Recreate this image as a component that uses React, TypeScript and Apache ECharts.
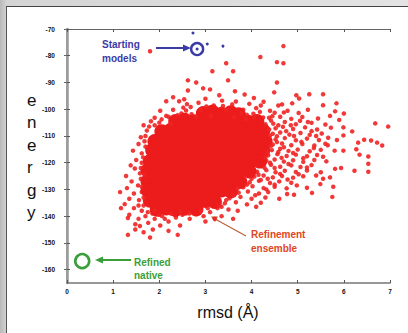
import React, { useEffect, useRef } from "react";
import * as echarts from "echarts";

const yTicks = [-160, -150, -140, -130, -120, -110, -100, -90, -80, -70];

// dense core of the refinement ensemble [rmsd, energy]
const core: [number, number][] = [
  [2.95, -101.5], [3.15, -101], [3.35, -101.8], [3.55, -101.2], [3.72, -102],
  [2.35, -104.5], [2.55, -104], [2.75, -104.6], [2.95, -104.2], [3.15, -104.8], [3.35, -104.1], [3.55, -104.6], [3.75, -104.3], [3.95, -104.9], [4.12, -104.5],
  [2.05, -108.3], [2.25, -107.8], [2.45, -108.4], [2.65, -108], [2.85, -108.5], [3.05, -107.9], [3.25, -108.3], [3.45, -108], [3.65, -108.6], [3.85, -108.1], [4.05, -108.4], [4.25, -108],
  [1.9, -112], [2.1, -111.5], [2.3, -112.1], [2.5, -111.6], [2.7, -112], [2.9, -111.4], [3.1, -112.2], [3.3, -111.7], [3.5, -112], [3.7, -111.5], [3.9, -112.1], [4.1, -111.6], [4.3, -112],
  [1.85, -115.3], [2.05, -115.9], [2.25, -115.4], [2.45, -115.8], [2.65, -115.2], [2.85, -115.7], [3.05, -115.4], [3.25, -115.9], [3.45, -115.3], [3.65, -115.8], [3.85, -115.4], [4.05, -115.7], [4.25, -115.3],
  [1.8, -119.5], [2.0, -119], [2.2, -119.4], [2.4, -118.9], [2.6, -119.5], [2.8, -119.1], [3.0, -119.6], [3.2, -119], [3.4, -119.4], [3.6, -119.1], [3.8, -119.6], [4.0, -119.2], [4.18, -119.5],
  [1.75, -122.8], [1.95, -123.3], [2.15, -122.9], [2.35, -123.4], [2.55, -122.8], [2.75, -123.2], [2.95, -122.9], [3.15, -123.4], [3.35, -122.8], [3.55, -123.3], [3.75, -122.9], [3.95, -123.2],
  [1.75, -127], [1.95, -126.5], [2.15, -127.1], [2.35, -126.6], [2.55, -127], [2.75, -126.5], [2.95, -127.1], [3.15, -126.7], [3.35, -127], [3.55, -126.6], [3.75, -127.1],
  [1.75, -130.3], [1.95, -130.8], [2.15, -130.4], [2.35, -130.9], [2.55, -130.3], [2.75, -130.7], [2.95, -130.4], [3.15, -130.8], [3.35, -130.3], [3.55, -130.7],
  [1.8, -134.1], [2.0, -134.6], [2.2, -134.2], [2.4, -134.7], [2.6, -134.1], [2.8, -134.5], [3.0, -134.2], [3.2, -134.6],
  [1.95, -137.5], [2.15, -137], [2.35, -137.6], [2.55, -137.1], [2.8, -137.4],
];

// dots along the edge of the core
const fringe: [number, number][] = [
  [2.05, -103.8], [2.25, -105.5], [2.4, -102.2], [2.58, -100.5], [2.8, -102.8], [3.02, -99], [3.12, -102.6], [3.45, -100.3], [3.62, -102.9], [3.78, -101.5],
  [3.88, -103.6], [4.05, -103.2], [4.18, -101], [4.3, -105.6], [4.38, -107.6], [2.52, -99.4], [2.9, -100.2], [3.38, -98.8], [3.58, -98.2], [4.2, -98.6],
  [4.4, -109.8], [4.42, -113.7], [4.35, -116], [4.3, -118], [4.28, -121.9], [4.15, -124.5], [4.0, -126], [3.9, -128.2], [3.7, -129.5], [3.6, -132],
  [3.45, -134], [3.3, -136], [4.55, -110.1], [4.58, -116], [4.4, -120], [4.2, -126.5],
  [1.7, -114], [1.65, -118], [1.6, -122], [1.62, -129], [1.66, -133], [1.7, -110], [1.78, -106.5], [1.9, -106], [1.68, -124.5], [1.55, -136],
  [1.75, -138.5], [2.0, -139.5], [2.25, -139], [2.45, -138.2], [2.65, -139], [2.9, -138], [3.05, -137], [1.9, -137.8], [2.12, -141],
  [4.42, -104.2], [4.58, -106], [4.75, -108.2], [4.92, -110], [5.08, -112.2], [4.55, -112.3], [4.7, -114.2], [4.9, -116.4], [5.12, -118.3], [4.65, -118.2],
  [4.8, -120.5], [4.5, -122], [4.62, -124.2], [4.78, -126.3], [4.35, -126], [4.5, -128.2], [4.32, -130], [4.08, -132.2], [5.3, -108.2], [5.35, -114.5],
  [5.2, -121.8], [5.02, -124.3], [4.98, -128.5], [5.4, -110], [5.55, -117.8], [5.05, -104.3], [5.22, -104.8], [4.85, -106],
];

// medium-density halo around the core
const halo: [number, number][] = [
  [2.15, -97], [2.43, -97], [2.54, -96.3], [2.68, -99.2], [2.85, -97.6], [3.0, -96.1], [3.18, -98.6], [3.36, -96.8], [3.5, -99.6], [3.66, -97.1],
  [3.82, -100.2], [3.95, -98], [4.1, -99.6], [4.26, -97.2], [4.4, -100.6], [4.58, -98.6], [2.3, -100.2], [2.48, -101.6], [2.6, -98.1], [3.06, -100.1],
  [3.27, -100.9], [3.9, -102.1], [4.04, -101.7], [4.45, -102.6], [4.66, -98.2], [4.88, -97.8], [2.02, -100.6], [1.9, -103.2], [2.2, -102.8], [2.7, -101.9],
  [4.25, -103.1], [4.7, -101.2],
  [4.5, -101.3], [4.78, -100.6], [5.02, -101.4], [5.22, -100.2],
  [4.38, -103.2], [4.62, -102.8], [4.86, -103.6], [5.1, -102.9], [5.44, -103.5],
  [4.47, -105.4], [4.72, -104.8], [4.96, -105.6], [5.3, -105.1], [5.6, -105.7],
  [4.52, -107.1], [4.68, -106.6], [4.9, -107.4], [5.16, -106.8], [5.42, -107.6], [5.72, -106.9],
  [4.46, -109.2], [4.62, -108.7], [4.82, -109.5], [5.06, -108.9], [5.26, -109.6], [5.52, -109.1],
  [4.52, -111.3], [4.72, -110.8], [4.96, -111.6], [5.2, -111], [5.46, -111.5], [5.66, -110.7],
  [4.46, -113.2], [4.66, -112.8], [4.86, -113.5], [5.1, -113], [5.36, -113.6], [5.6, -112.9],
  [4.44, -115.3], [4.62, -114.8], [4.8, -115.6], [5.0, -115.1], [5.26, -115.7], [5.5, -115.2], [5.8, -115.5],
  [4.36, -117.2], [4.56, -116.8], [4.76, -117.5], [4.96, -117], [5.2, -117.6], [5.42, -117.1],
  [4.32, -119.3], [4.5, -118.8], [4.7, -119.6], [4.9, -119.1], [5.12, -119.7], [5.36, -119], [5.62, -119.5],
  [4.22, -121.2], [4.42, -120.8], [4.62, -121.5], [4.86, -121], [5.06, -121.6], [5.3, -120.9],
  [4.12, -123.4], [4.32, -122.8], [4.52, -123.6], [4.72, -123], [4.96, -123.5], [5.2, -122.9], [5.5, -123.6],
  [4.06, -125.2], [4.26, -124.8], [4.46, -125.5], [4.66, -125], [4.9, -125.6], [5.12, -125.1],
  [3.96, -127.3], [4.16, -126.8], [4.4, -127.6], [4.6, -127], [4.86, -127.5],
  [3.82, -129.2], [4.02, -128.8], [4.26, -129.5], [4.5, -129], [4.76, -129.6],
  [3.72, -131.2], [3.92, -130.8], [4.16, -131.5], [4.36, -131],
  [3.52, -133.3], [3.76, -132.8], [4.0, -133.5], [4.3, -133],
  [3.42, -135.2], [3.66, -134.8], [3.9, -135.6],
  [1.73, -108], [1.6, -110.5], [1.55, -113], [1.43, -115.5], [1.62, -116.5], [1.5, -119], [1.38, -121], [1.47, -122.2], [1.58, -124], [1.28, -125],
  [1.4, -127], [1.54, -128.5], [1.3, -129.5], [1.15, -131], [1.45, -131.5], [1.35, -133.5], [1.56, -134], [1.25, -135.5], [1.17, -137], [1.45, -137],
  [1.62, -138], [1.35, -139.5], [1.32, -140.7], [1.55, -141], [1.7, -140], [1.48, -143], [1.58, -143.7], [1.76, -142.5], [1.9, -141], [2.02, -143.5],
  [1.32, -147], [1.48, -145], [1.66, -146], [1.86, -145], [2.06, -140], [2.2, -142], [2.36, -140.5], [2.5, -139.5], [2.66, -141], [2.8, -139.2],
  [2.96, -140], [3.1, -138.5], [3.26, -137], [2.2, -145.5], [2.45, -143.5], [3.0, -142], [3.35, -140], [1.82, -104.5], [2.0, -105], [2.15, -102.5],
  [1.66, -106], [1.68, -112], [1.62, -120], [1.6, -126], [1.62, -131], [1.66, -136], [1.85, -139], [3.15, -136], [3.35, -136.5], [2.4, -147],
  [1.8, -148], [3.5, -137.5], [3.7, -138], [3.2, -141], [4.1, -136.5], [4.2, -135], [3.6, -141],
];

// isolated outliers
const sparse: [number, number][] = [
  [1.8, -78.3], [4.19, -80.5], [3.45, -82.8], [3.15, -85.8], [3.6, -85.8], [2.62, -89.2], [2.8, -90], [3.49, -89.2], [2.62, -93], [2.95, -92.2],
  [3.1, -92.6], [3.64, -93.3], [4.69, -76.4], [4.55, -82.4], [4.69, -82.8], [4.55, -90], [4.49, -93.7], [2.3, -95.5], [3.85, -94.5], [4.05, -95.8],
  [3.3, -94.8], [5.25, -94.4], [4.97, -94.8], [5.03, -96], [5.55, -94.4], [5.84, -97.8], [5.81, -100.8], [6.0, -101.6], [6.68, -105.3], [6.96, -106.5],
  [6.18, -108.3], [6.44, -111.4], [6.59, -111.7], [6.72, -112.5], [6.83, -113.6], [6.31, -112.5], [6.27, -115], [6.34, -117], [6.53, -117.7], [6.53, -120.4],
  [6.53, -123.4], [6.23, -123], [5.94, -122], [5.81, -122.3], [5.99, -115.5], [5.99, -106.8], [5.99, -109.8], [5.75, -132.8], [5.77, -129], [5.31, -131.3],
  [5.2, -129.4], [5.49, -128], [4.6, -133.5], [4.92, -132], [4.77, -131.7], [5.55, -126], [5.7, -125.5], [5.4, -124.8], [5.65, -113.5], [5.85, -111.5],
  [5.9, -104], [5.7, -102.5], [5.55, -98.5],
];

const startingModel: [number, number][] = [[2.82, -77.5]];
const startingDots: [number, number][] = [[2.73, -71.5], [3.04, -75.6], [3.38, -76.4]];
const refinedNative: [number, number][] = [[0.33, -156.8]];

const FONT = "'Liberation Sans', Arial, sans-serif";
const BLUE = "#3b3ba6";
const GREEN = "#3a9e3a";
const ORANGE = "#e0461e";
const RED = "#ec1c1c";

export default function App() {
  const ref = useRef<HTMLDivElement>(null);
  useEffect(() => {
    if (!ref.current) return;
    const chart = echarts.init(ref.current, undefined, { renderer: "svg" });
    const tickLabel = { fontSize: 6.5, fontWeight: "bold", color: "#111", fontFamily: FONT };
    const dotStyle = { color: "#f02424", opacity: 0.9 };
    chart.setOption({
      animation: false,
      grid: { left: 67, top: 29, right: 18, bottom: 50 },
      xAxis: [
        {
          type: "value", position: "bottom", min: 0, max: 7, interval: 1,
          axisLine: { lineStyle: { color: "#777", width: 1.5 } },
          axisTick: { inside: true, length: 3, lineStyle: { color: "#555" } },
          axisLabel: { ...tickLabel, margin: 5 },
          splitLine: { show: false },
        },
        {
          type: "value", position: "top", min: 0, max: 7, interval: 1,
          axisLine: { lineStyle: { color: "#666", width: 1 } },
          axisTick: { inside: true, length: 3, lineStyle: { color: "#555" } },
          axisLabel: { show: false },
          splitLine: { show: false },
        },
      ],
      yAxis: [
        {
          type: "value", position: "left", min: -165, max: -70,
          axisLine: { lineStyle: { color: "#888", width: 1.5 } },
          axisTick: { inside: true, length: 3, customValues: yTicks, lineStyle: { color: "#555" } },
          axisLabel: { ...tickLabel, margin: 12, customValues: yTicks },
          splitLine: { show: false },
        },
        {
          type: "value", position: "right", min: -165, max: -70,
          axisLine: { lineStyle: { color: "#9a9a9a", width: 2.5 } },
          axisTick: { inside: true, length: 3, customValues: yTicks, lineStyle: { color: "#666" } },
          axisLabel: { show: false },
          splitLine: { show: false },
        },
      ],
      series: [
        { name: "halo", type: "scatter", data: halo, symbol: "circle", symbolSize: 4.5, itemStyle: dotStyle, silent: true },
        { name: "outliers", type: "scatter", data: sparse, symbol: "circle", symbolSize: 4.5, itemStyle: dotStyle, silent: true },
        { name: "core", type: "scatter", data: core, symbol: "circle", symbolSize: 14.5, itemStyle: { color: RED, opacity: 1 }, silent: true },
        { name: "fringe", type: "scatter", data: fringe, symbol: "circle", symbolSize: 4.5, itemStyle: dotStyle, silent: true },
        {
          name: "Starting models", type: "scatter", data: startingModel, symbol: "circle", symbolSize: 12,
          itemStyle: { color: "rgba(255,255,255,0)", borderColor: BLUE, borderWidth: 2.4, opacity: 1 }, silent: true,
        },
        {
          name: "starting dots", type: "scatter", data: [...startingModel, ...startingDots], symbol: "circle", symbolSize: 3,
          itemStyle: { color: BLUE, opacity: 1 }, silent: true,
        },
        {
          name: "Refined native", type: "scatter", data: refinedNative, symbol: "circle", symbolSize: 14,
          itemStyle: { color: "rgba(255,255,255,0)", borderColor: GREEN, borderWidth: 2.6, opacity: 1 }, silent: true,
        },
      ],
      graphic: [
        ...["e", "n", "e", "r", "g", "y"].map((ch, i) => ({
          type: "text", left: 27, top: 92 + i * 22.4,
          style: { text: ch, font: `17px ${FONT}`, fill: "#111" },
        })),
        {
          type: "text", x: 228, y: 312,
          style: { text: "rmsd (Å)", font: `16px ${FONT}`, fill: "#111", align: "center", verticalAlign: "middle" },
        },
        { type: "text", x: 102, y: 44, style: { text: "Starting", font: `bold 10px ${FONT}`, fill: BLUE, verticalAlign: "middle" } },
        { type: "text", x: 102, y: 58, style: { text: "models", font: `bold 10px ${FONT}`, fill: BLUE, verticalAlign: "middle" } },
        { type: "line", shape: { x1: 156, y1: 48, x2: 186, y2: 48 }, style: { stroke: BLUE, lineWidth: 2 } },
        { type: "polygon", shape: { points: [[191, 48], [183, 44.5], [183, 51.5]] }, style: { fill: BLUE } },
        { type: "text", x: 251, y: 234, style: { text: "Refinement", font: `bold 10px ${FONT}`, fill: ORANGE, verticalAlign: "middle" } },
        { type: "text", x: 251, y: 248, style: { text: "ensemble", font: `bold 10px ${FONT}`, fill: ORANGE, verticalAlign: "middle" } },
        { type: "line", shape: { x1: 246, y1: 236, x2: 216, y2: 219.5 }, style: { stroke: "#b8603a", lineWidth: 1.2 } },
        { type: "polygon", shape: { points: [[211, 216.5], [218, 216.5], [215, 222]] }, style: { fill: "#b8603a" } },
        { type: "text", x: 134, y: 262, style: { text: "Refined", font: `bold 10px ${FONT}`, fill: GREEN, verticalAlign: "middle" } },
        { type: "text", x: 134, y: 275, style: { text: "native", font: `bold 10px ${FONT}`, fill: GREEN, verticalAlign: "middle" } },
        { type: "line", shape: { x1: 131, y1: 260, x2: 101, y2: 260 }, style: { stroke: GREEN, lineWidth: 2 } },
        { type: "polygon", shape: { points: [[95, 260], [103, 256.5], [103, 263.5]] }, style: { fill: GREEN } },
      ],
    });
    return () => chart.dispose();
  }, []);

  return (
    <div
      style={{
        position: "absolute", left: 0, top: 0, width: 408, height: 333, overflow: "hidden",
        background: "linear-gradient(90deg, #b9b9b9 0px, #d4d4d4 7px, #e3e3e3 100%)",
      }}
    >
      <div
        style={{
          position: "absolute", left: 6, top: 6, right: 0, bottom: 0, background: "#fff",
          borderTop: "1px solid #444", borderLeft: "1px solid #555",
        }}
      />
      <div ref={ref} style={{ position: "absolute", left: 0, top: 0, width: 408, height: 333 }} />
    </div>
  );
}
